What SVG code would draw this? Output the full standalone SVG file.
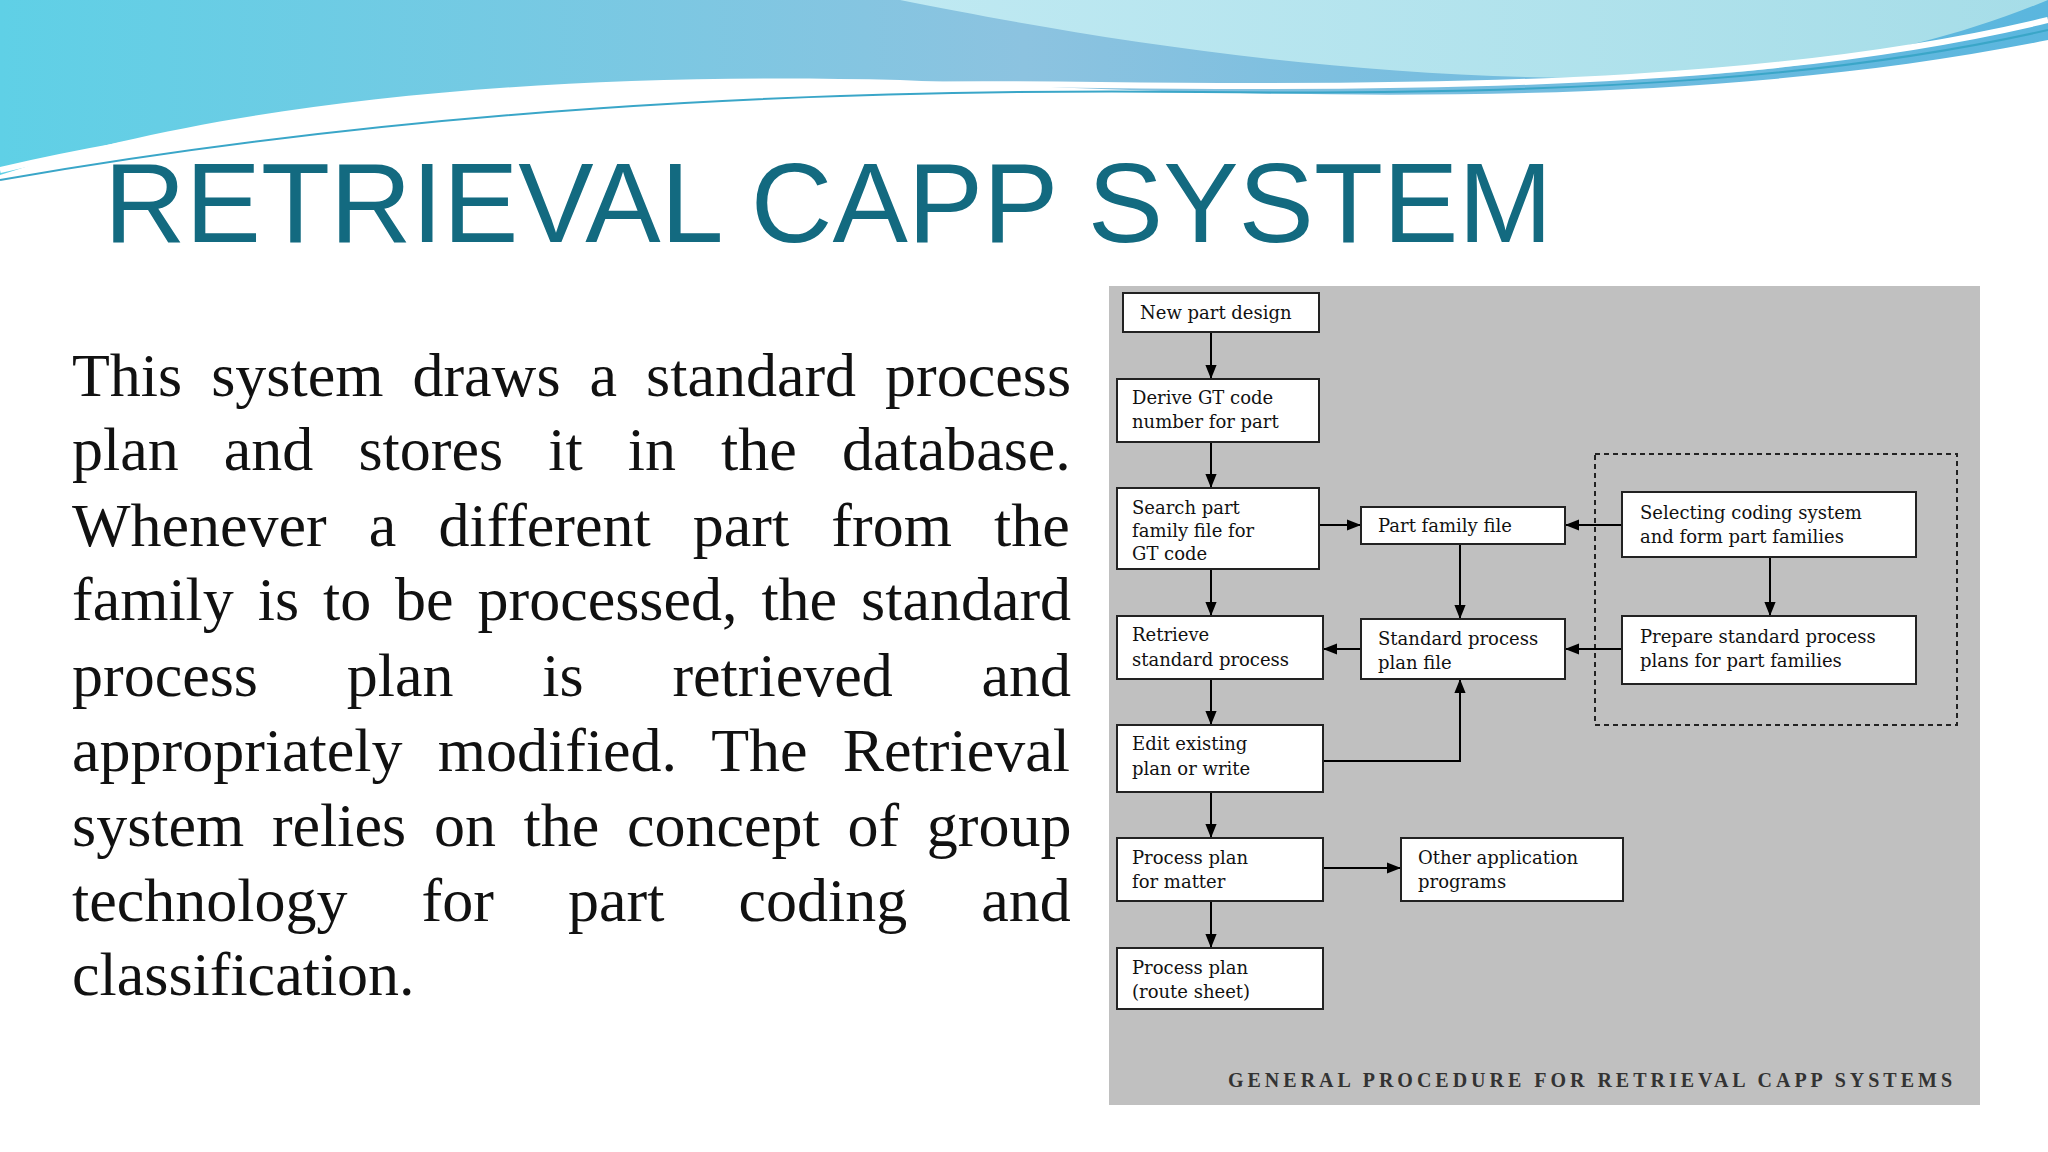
<svg xmlns="http://www.w3.org/2000/svg" width="2048" height="1152" viewBox="0 0 2048 1152">
<defs>
<linearGradient id="g1" x1="0" y1="0" x2="1" y2="0"><stop offset="0" stop-color="#5fd0e6"/><stop offset="0.5" stop-color="#8cc3e0"/><stop offset="1" stop-color="#5ab6de"/></linearGradient>
<linearGradient id="g2" x1="0" y1="0" x2="1" y2="0"><stop offset="0" stop-color="#bfe9f2"/><stop offset="1" stop-color="#a6dde8"/></linearGradient>
<marker id="ar" viewBox="0 0 10 10" refX="10" refY="5" markerWidth="7" markerHeight="7" orient="auto"><path d="M0,1 L10,5 L0,9 z" fill="#000"/></marker>
<style>
.bx{fill:#fff;stroke:#222;stroke-width:2}
.bt{font-family:"DejaVu Serif",serif;font-size:18px;fill:#111}
.cn{stroke:#000;stroke-width:2;fill:none;marker-end:url(#ar)}
.p{font-family:"Liberation Serif",serif;font-size:62px;fill:#111}
</style>
</defs>
<rect width="2048" height="1152" fill="#fff"/>
<path d="M0,0 H2048 V40 C1700,110 1300,100 900,80 C500,70 200,110 0,175 Z" fill="url(#g1)"/>
<path d="M900,0 C1100,40 1400,90 1700,75 C1850,65 1950,40 2048,0 Z" fill="url(#g2)"/>
<path d="M0,170 C300,100 700,80 1100,85 C1500,90 1800,80 2048,20" fill="none" stroke="#fff" stroke-width="6"/>
<path d="M0,180 C400,110 800,88 1200,92 C1600,96 1850,75 2048,30" fill="none" stroke="#3aa6c8" stroke-width="2"/>
<text x="104" y="242" font-family="Liberation Sans,Arial,sans-serif" font-size="113" fill="#136a80">RETRIEVAL CAPP SYSTEM</text>
<g id="para">
<text class="p" x="72" y="396" word-spacing="13.5">This system draws a standard process</text>
<text class="p" x="72" y="470" word-spacing="29.6">plan and stores it in the database.</text>
<text class="p" x="72" y="546" word-spacing="26.6">Whenever a different part from the</text>
<text class="p" x="72" y="620" word-spacing="8.4">family is to be processed, the standard</text>
<text class="p" x="72" y="696" word-spacing="73.3">process plan is retrieved and</text>
<text class="p" x="72" y="771" word-spacing="19.7">appropriately modified. The Retrieval</text>
<text class="p" x="72" y="846" word-spacing="12.2">system relies on the concept of group</text>
<text class="p" x="72" y="921" word-spacing="58.6">technology for part coding and</text>
<text class="p" x="72" y="995">classification.</text>
</g>
<rect x="1109" y="286" width="871" height="819" fill="#c0c0c0"/>
<rect x="1595" y="454" width="362" height="271" fill="none" stroke="#222" stroke-width="2" stroke-dasharray="5,4"/>
<g id="connectors">
<line class="cn" x1="1211" y1="332" x2="1211" y2="379"/>
<line class="cn" x1="1211" y1="442" x2="1211" y2="488"/>
<line class="cn" x1="1211" y1="569" x2="1211" y2="616"/>
<line class="cn" x1="1211" y1="679" x2="1211" y2="725"/>
<line class="cn" x1="1211" y1="792" x2="1211" y2="838"/>
<line class="cn" x1="1211" y1="901" x2="1211" y2="948"/>
<line class="cn" x1="1319" y1="525" x2="1361" y2="525"/>
<line class="cn" x1="1622" y1="525" x2="1565" y2="525"/>
<line class="cn" x1="1460" y1="544" x2="1460" y2="619"/>
<line class="cn" x1="1622" y1="649" x2="1565" y2="649"/>
<line class="cn" x1="1361" y1="649" x2="1323" y2="649"/>
<line class="cn" x1="1770" y1="557" x2="1770" y2="616"/>
<polyline class="cn" points="1323,761 1460,761 1460,679"/>
<line class="cn" x1="1323" y1="868" x2="1401" y2="868"/>
</g>
<g id="n1"><rect class="bx" x="1123" y="293" width="196" height="39"/><text class="bt" x="1140" y="319">New part design</text></g>
<g id="n2"><rect class="bx" x="1117" y="379" width="202" height="63"/><text class="bt" x="1132" y="404">Derive GT code</text><text class="bt" x="1132" y="428">number for part</text></g>
<g id="n3"><rect class="bx" x="1117" y="488" width="202" height="81"/><text class="bt" x="1132" y="514">Search part</text><text class="bt" x="1132" y="537">family file for</text><text class="bt" x="1132" y="560">GT code</text></g>
<g id="n4"><rect class="bx" x="1117" y="616" width="206" height="63"/><text class="bt" x="1132" y="641">Retrieve</text><text class="bt" x="1132" y="666">standard process</text></g>
<g id="n5"><rect class="bx" x="1117" y="725" width="206" height="67"/><text class="bt" x="1132" y="750">Edit existing</text><text class="bt" x="1132" y="775">plan or write</text></g>
<g id="n6"><rect class="bx" x="1117" y="838" width="206" height="63"/><text class="bt" x="1132" y="864">Process plan</text><text class="bt" x="1132" y="888">for matter</text></g>
<g id="n7"><rect class="bx" x="1117" y="948" width="206" height="61"/><text class="bt" x="1132" y="974">Process plan</text><text class="bt" x="1132" y="998">(route sheet)</text></g>
<g id="n8"><rect class="bx" x="1361" y="507" width="204" height="37"/><text class="bt" x="1378" y="532">Part family file</text></g>
<g id="n9"><rect class="bx" x="1361" y="619" width="204" height="60"/><text class="bt" x="1378" y="645">Standard process</text><text class="bt" x="1378" y="669">plan file</text></g>
<g id="n10"><rect class="bx" x="1622" y="492" width="294" height="65"/><text class="bt" x="1640" y="519">Selecting coding system</text><text class="bt" x="1640" y="543">and form part families</text></g>
<g id="n11"><rect class="bx" x="1622" y="616" width="294" height="68"/><text class="bt" x="1640" y="643">Prepare standard process</text><text class="bt" x="1640" y="667">plans for part families</text></g>
<g id="n12"><rect class="bx" x="1401" y="838" width="222" height="63"/><text class="bt" x="1418" y="864">Other application</text><text class="bt" x="1418" y="888">programs</text></g>
<text x="1228" y="1087" font-family="Liberation Serif,serif" font-size="20" font-weight="bold" fill="#333" textLength="724" lengthAdjust="spacing">GENERAL PROCEDURE FOR RETRIEVAL CAPP SYSTEMS</text>
</svg>
